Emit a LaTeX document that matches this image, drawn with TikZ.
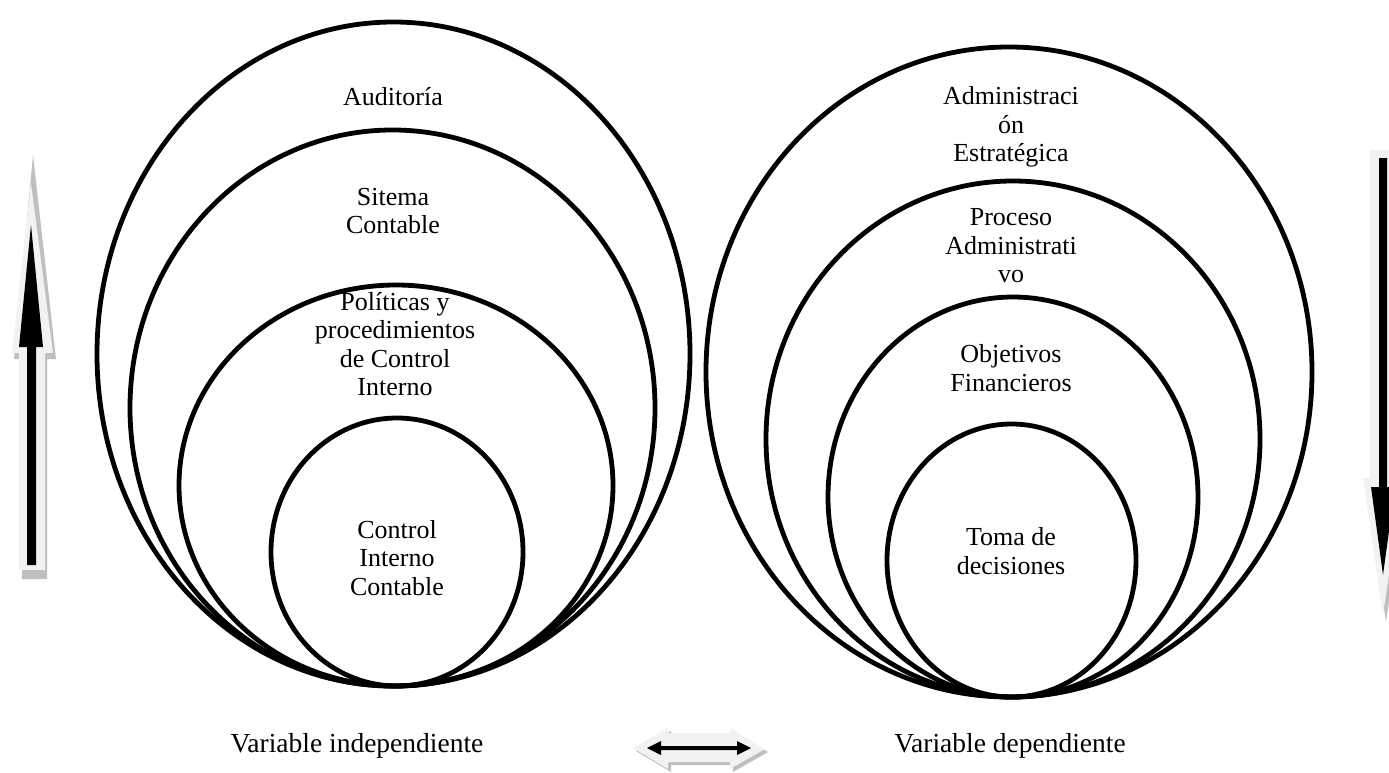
\documentclass[tikz,border=0pt]{standalone}
\usepackage{fontspec}
\setmainfont{Liberation Serif}
\definecolor{arrowlight}{HTML}{F2F2F2}
\definecolor{arrowshadow}{HTML}{BFBFBF}
\begin{document}
\begin{tikzpicture}[x=1pt,y=-1pt,
  ring/.style={line width=4.8pt},
  lbl/.style={align=center,font=\fontsize{26}{28.5}\selectfont,inner sep=0pt},
  caption/.style={font=\fontsize{27.5}{30}\selectfont,inner sep=0pt},
  glowfill/.style={fill=arrowlight},
  shadowfill/.style={fill=arrowshadow},
  corefill/.style={fill=black},
]
\useasboundingbox (0,0) rectangle (1389,772);

% ---------- independent variable: nested ellipses ----------
\draw[ring] (393.5,354)   ellipse [x radius=296.5pt, y radius=332pt];
\draw[ring] (392.5,408)   ellipse [x radius=262.5pt, y radius=278pt];
\draw[ring] (396,485.5)   ellipse [x radius=217pt,   y radius=200.5pt];
\draw[ring] (397,552)     ellipse [x radius=126pt,   y radius=134pt];

\node[lbl] (aud) at (393,97)    {Auditoría};
\node[lbl] (sis) at (393,211)   {Sitema\\Contable};
\node[lbl] (pol) at (395,344)   {Políticas y\\procedimientos\\de Control\\Interno};
\node[lbl] (cic) at (397,558)   {Control\\Interno\\Contable};

% ---------- dependent variable: nested ellipses ----------
\draw[ring] (1009,372)    ellipse [x radius=303pt,   y radius=325pt];
\draw[ring] (1013,439)    ellipse [x radius=247pt,   y radius=258pt];
\draw[ring] (1013,497)    ellipse [x radius=185pt,   y radius=200pt];
\draw[ring] (1011.5,560.5) ellipse [x radius=124.5pt, y radius=136.5pt];

\node[lbl] (adm) at (1011,127)   {Administraci\\ón\\Estratégica};
\node[lbl] (pro) at (1011,246)   {Proceso\\Administrati\\vo};
\node[lbl] (obj) at (1011,368)   {Objetivos\\Financieros};
\node[lbl] (tom) at (1011,551)   {Toma de\\decisiones};

% ---------- captions ----------
\node[caption] (vi) at (357,746)  {Variable independiente};
\node[caption] (vd) at (1010,746) {Variable dependiente};

% ---------- upward block arrow (left) ----------
\fill[shadowfill] (33,155) -- (56,359) -- (47,359) -- (47,579) -- (22,579)
  -- (22,359) -- (14,359) -- cycle;
\fill[glowfill] (31,183) -- (53,353) -- (45,353) -- (45,570) -- (19,570)
  -- (19,353) -- (12,353) -- cycle;
\fill[corefill] (31,225) -- (43,347) -- (36,347) -- (36,565) -- (27,565)
  -- (27,347) -- (19,347) -- cycle;

% ---------- downward block arrow (right) ----------
\fill[shadowfill] (1373,155) -- (1399,155) -- (1399,483) -- (1406,483)
  -- (1386,622) -- (1366,483) -- (1373,483) -- cycle;
\fill[glowfill] (1370,150) -- (1396,150) -- (1396,478) -- (1403,478)
  -- (1383,615) -- (1363,478) -- (1370,478) -- cycle;
\fill[corefill] (1379,158) -- (1387,158) -- (1387,487) -- (1395,487)
  -- (1383,575) -- (1371,487) -- (1379,487) -- cycle;

% ---------- two-way arrow between the captions ----------
\fill[shadowfill] (636,751) -- (671,731) -- (671,736) -- (733,736) -- (733,731)
  -- (768,752) -- (733,772) -- (733,765) -- (671,765) -- (671,772) -- cycle;
\fill[glowfill] (633,748) -- (668,728) -- (668,733) -- (730,733) -- (730,728)
  -- (765,749) -- (730,769) -- (730,762) -- (668,762) -- (668,769) -- cycle;
\fill[corefill] (647,748) -- (661,741) -- (661,746) -- (737,746) -- (737,741)
  -- (751,748) -- (737,755) -- (737,750) -- (661,750) -- (661,755) -- cycle;
\end{tikzpicture}
\end{document}
